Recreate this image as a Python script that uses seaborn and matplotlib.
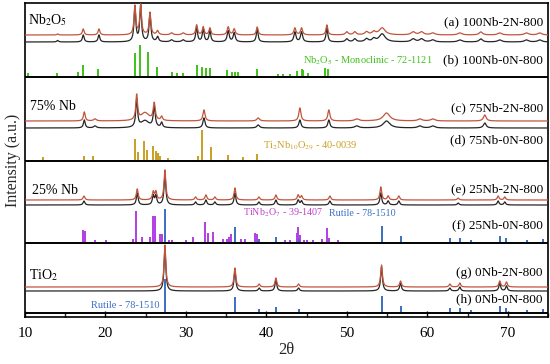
import numpy as np
import pandas as pd
import matplotlib
matplotlib.use("Agg")
import matplotlib.pyplot as plt
from matplotlib.ticker import MultipleLocator
import seaborn as sns

# ------------------------------------------------------------------ data
x_ticks = [10, 20, 30, 40, 50, 60, 70]
x_limits = [10, 75]

# Nb2O5 (100Nb) measured patterns: peak positions (2θ), intensities, HWHM
nb100_pos = [14.06, 17.24, 19.19, 23.66, 24.37, 25.53, 26.48, 28.22, 29.66, 31.33,
             32.15, 32.98, 35.25, 36.0, 38.86, 43.54, 44.37, 47.52, 50.0, 50.99,
             52.45, 53.35, 54.39, 58.24, 59.28, 60.68, 64.04, 66.65, 69.0, 72.32, 73.98]
nb100_2n_int = [1, 6, 6, 29, 30, 22, 4, 2, 2, 10, 8, 7, 8, 6, 8, 7, 7, 10, 3, 3,
                3, 3, 7, 3, 3, 2, 2, 3, 2, 2, 2]
nb100_0n_int = [1.5, 7, 7, 35, 36, 29, 5, 2, 2, 15, 13, 11, 11, 9, 13, 10, 10, 14, 3, 3,
                3, 3, 8, 3, 3, 2, 2, 3, 2, 2, 2]
nb100_hwhm = [0.13, 0.13, 0.13, 0.13, 0.13, 0.13, 0.15, 0.2, 0.2, 0.13,
              0.13, 0.13, 0.15, 0.15, 0.13, 0.15, 0.15, 0.13, 0.2, 0.2,
              0.25, 0.25, 0.45, 0.3, 0.3, 0.3, 0.3, 0.25, 0.3, 0.3, 0.3]

# Nb2O5 monoclinic reference 72-1121
nb2o5_ref_pos = [10.41, 13.94, 16.58, 17.17, 19.03, 23.66, 24.29, 25.32, 26.36, 28.22,
                 28.84, 29.59, 31.4, 31.95, 32.48, 32.98, 35.06, 35.68, 36.09, 36.5,
                 38.78, 41.47, 42.09, 42.92, 43.83, 44.37, 44.57, 45.19, 47.27, 47.64]
nb2o5_ref_int = [4, 4, 5, 12, 8, 24, 32, 25, 10, 5,
                 4, 4, 12, 10, 9, 9, 7, 5, 5, 5,
                 8, 3, 3, 3, 6, 8, 7, 4, 9, 8]

# 75Nb measured patterns
nb75_pos = [17.37, 18.7, 23.88, 24.91, 26.06, 26.98, 32.24, 38.98, 44.16, 47.76,
            51.24, 54.93, 59.07, 60.68, 67.14]
nb75_2n_int = [9, 2, 25, 8, 17, 4, 11, 3, 13, 11, 2, 8, 2, 2, 6]
nb75_0n_int = [8, 2, 28, 7, 20, 5, 10, 3, 8, 8, 2, 7, 2, 2, 5]
nb75_hwhm = [0.13, 0.2, 0.13, 0.6, 0.15, 0.13, 0.15, 0.2, 0.15, 0.15,
             0.3, 0.5, 0.3, 0.3, 0.2]

# Ti2Nb10O29 reference 40-0039
t2n_ref_pos = [12.27, 17.33, 18.48, 23.66, 24.07, 24.82, 25.19, 25.94, 26.27, 26.52,
               26.77, 27.73, 31.45, 32.02, 33.11, 35.25, 37.12, 38.78]
t2n_ref_int = [4, 5, 5, 22, 9, 20, 11, 15, 10, 8, 5, 3, 5, 31, 14, 6, 4, 7]

# 25Nb measured patterns
nb25_pos = [17.33, 23.95, 25.94, 26.27, 27.39, 31.2, 32.48, 33.6, 36.09, 39.07,
            41.18, 43.95, 44.37, 47.89, 54.22, 55.13, 56.46, 63.83, 68.8, 69.63]
nb25_2n_int = [4, 11, 8, 8, 30, 3, 5, 3, 12, 3, 5, 5, 4, 4, 13, 4, 4, 2, 4, 3]
nb25_0n_int = [4, 12, 9, 9, 31, 3, 5, 3, 12, 3, 5, 5, 4, 4, 12, 4, 4, 2, 4, 3]

# TiNb2O7 reference 39-1407
tnb_ref_pos = [17.17, 17.4, 18.7, 20.06, 23.38, 23.79, 24.5, 25.53, 25.86, 26.15,
               26.77, 26.98, 27.93, 28.22, 30.0, 30.91, 32.36, 32.7, 33.39, 34.56,
               35.06, 35.38, 35.55, 36.8, 37.33, 38.57, 38.78, 42.3, 42.92, 43.75,
               43.95, 44.16, 44.66, 44.99, 45.81, 46.86, 47.55, 47.8, 48.92]
tnb_ref_int = [13, 12, 3, 3, 4, 32, 6, 6, 27, 27,
               9, 9, 3, 3, 3, 6, 21, 10, 11, 4,
               4, 6, 9, 4, 4, 10, 9, 3, 3, 10,
               16, 8, 3, 3, 3, 4, 15, 5, 3]

# Rutile reference 78-1510
rutile_ref_pos = [27.39, 36.09, 39.1, 41.18, 44.0, 54.31, 56.67, 62.8, 64.04, 65.49,
                  69.0, 69.84, 72.4, 74.39]
rutile_ref_int = [34, 16, 4, 6, 4, 17, 7, 5, 5, 3, 7, 5, 3, 4]

# TiO2 (0Nb) measured patterns
tio2_pos = [27.39, 36.09, 39.1, 41.18, 44.0, 54.31, 56.67, 62.8, 64.04, 69.0, 69.84]
tio2_2n_int = [42, 19, 3, 9, 3, 22, 6, 3, 4, 6, 5]
tio2_0n_int = [44, 21, 3, 11, 3, 24, 8, 3, 4, 8, 5]

sample_labels = ["(a) 100Nb-2N-800", "(b) 100Nb-0N-800", "(c) 75Nb-2N-800",
                 "(d) 75Nb-0N-800", "(e) 25Nb-2N-800", "(f) 25Nb-0N-800",
                 "(g) 0Nb-2N-800", "(h) 0Nb-0N-800"]
panel_labels = ["Nb$_2$O$_5$", "75% Nb", "25% Nb", "TiO$_2$"]
phase_labels = ["Nb$_2$O$_5$ - Monoclinic - 72-1121", "Ti$_2$Nb$_{10}$O$_{29}$ - 40-0039",
                "TiNb$_2$O$_7$ - 39-1407", "Rutile - 78-1510", "Rutile - 78-1510"]

# ------------------------------------------------------------------ style
sns.set_theme(style="ticks")
plt.rcParams["font.family"] = ["Liberation Serif", "DejaVu Serif"]
plt.rcParams["mathtext.fontset"] = "stix"

RED = "#c0553c"
BLACK = "#262626"
GREEN = "#3fc21a"
GOLD = "#c9a024"
PURPLE = "#b23ee6"
BLUE = "#3a6fc4"

grid = np.arange(x_limits[0], x_limits[1] + 0.005, 0.01)


def pattern(pos, inten, hwhm=None):
    if hwhm is None:
        hwhm = [0.13] * len(pos)
    y = np.zeros_like(grid)
    for p, h, w in zip(pos, inten, hwhm):
        y += h / (1.0 + ((grid - p) / w) ** 2)
    return y


fig = plt.figure(figsize=(5.5, 3.64), dpi=100)
ax = fig.add_axes([25 / 550, 1 - 317 / 364, 523 / 550, 314 / 364])


def draw_curve(pos, inten, base, color, hwhm=None):
    df = pd.DataFrame({"two_theta": grid, "intensity": base + pattern(pos, inten, hwhm)})
    sns.lineplot(data=df, x="two_theta", y="intensity", ax=ax, color=color,
                 lw=0.9, estimator=None, sort=False, zorder=3)


def draw_sticks(pos, inten, base, color):
    ax.vlines(pos, base, base + np.asarray(inten, float), color=color, lw=1.4, zorder=2)


# panel baselines (data units)
sep = [240, 156, 74, 4]

# Panel 1
draw_curve(nb100_pos, nb100_0n_int, 275, BLACK, nb100_hwhm)
draw_curve(nb100_pos, nb100_2n_int, 282, RED, nb100_hwhm)
draw_sticks(nb2o5_ref_pos, nb2o5_ref_int, sep[0], GREEN)
# Panel 2
draw_curve(nb75_pos, nb75_0n_int, 189, BLACK, nb75_hwhm)
draw_curve(nb75_pos, nb75_2n_int, 196, RED, nb75_hwhm)
draw_sticks(t2n_ref_pos, t2n_ref_int, sep[1], GOLD)
# Panel 3
draw_curve(nb25_pos, nb25_0n_int, 112, BLACK)
draw_curve(nb25_pos, nb25_2n_int, 117, RED)
draw_sticks(tnb_ref_pos, tnb_ref_int, sep[2], PURPLE)
draw_sticks(rutile_ref_pos, rutile_ref_int, sep[2], BLUE)
# Panel 4
draw_curve(tio2_pos, tio2_0n_int, 26, BLACK)
draw_curve(tio2_pos, tio2_2n_int, 30, RED)
draw_sticks(rutile_ref_pos, rutile_ref_int, sep[3], BLUE)

for s in sep:
    ax.axhline(s, color="black", lw=1.4, zorder=4)

ax.set_xlim(*x_limits)
ax.set_ylim(0, 314)
ax.set_xticks(x_ticks)
ax.xaxis.set_minor_locator(MultipleLocator(5))
ax.set_yticks([])
ax.tick_params(axis="x", which="major", direction="in", length=4, width=1,
               labelsize=11, pad=7, colors="black")
ax.tick_params(axis="x", which="minor", direction="in", length=3, width=1)
for sp in ax.spines.values():
    sp.set_visible(True)
    sp.set_color("black")
    sp.set_linewidth(1.2)
ax.set_xlabel("2θ", fontsize=12, labelpad=2)
ax.set_ylabel("Intensity (a.u.)", fontsize=11.5, labelpad=3)


def px(xp):
    return 10 + (xp - 25) / 8.05


def py(yp):
    return 317 - yp


# sample labels on the right
lab_y = [22, 60, 108, 140, 189, 225, 273, 299]
for t, yy in zip(sample_labels, lab_y):
    ax.text(px(543), py(yy), t, ha="right", va="center", fontsize=9.5, color="black", zorder=5)

# panel labels on the left
for t, (xx, yy) in zip(panel_labels, [(28, 20), (30, 106), (32, 190), (29, 275)]):
    ax.text(px(xx), py(yy), t, ha="left", va="center", fontsize=10, color="black", zorder=5)

# phase labels
ax.text(px(303), py(61), phase_labels[0], ha="left", va="center", fontsize=7.5, color=GREEN)
ax.text(px(263), py(146), phase_labels[1], ha="left", va="center", fontsize=7.5, color=GOLD)
ax.text(px(323), py(213), phase_labels[2], ha="right", va="center", fontsize=7.2, color="#c040c8")
ax.text(px(329), py(213), phase_labels[3], ha="left", va="center", fontsize=7.2, color=BLUE)
ax.text(px(160), py(305), phase_labels[4], ha="right", va="center", fontsize=7.5, color=BLUE)

fig.savefig("out.png", dpi=100)
